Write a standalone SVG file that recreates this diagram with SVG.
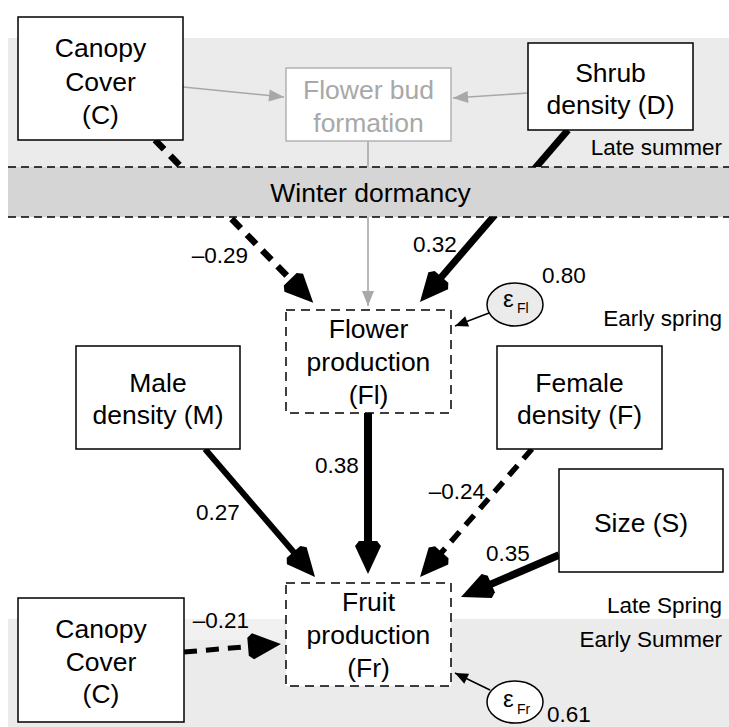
<svg xmlns="http://www.w3.org/2000/svg" width="729" height="727" viewBox="0 0 729 727">
<style>
text{font-family:"Liberation Sans",Arial,Helvetica,sans-serif;fill:#000}
.node{font-size:26.5px;text-anchor:middle}
.lbl{font-size:22.5px}
.season{font-size:22.5px;text-anchor:end}
.box{fill:#fff;stroke:#000;stroke-width:1.5}
.dbox{fill:#fff;stroke:#000;stroke-width:1.5;stroke-dasharray:9,6}
.bud{fill:#fff;stroke:#b3b3b3;stroke-width:1.5}
.budt{fill:#a8a8a8}
.thick{stroke:#000;fill:none;marker-end:url(#big)}
.dash{stroke-dasharray:13,9}
.gray{stroke:#a8a8a8;stroke-width:1.6;fill:none;marker-end:url(#gh)}
.thin{stroke:#000;stroke-width:1.5;fill:none;marker-end:url(#th)}
.eps{font-size:24px}
.sub{font-size:14px}
</style>
<defs>
<marker id="big" markerUnits="userSpaceOnUse" viewBox="-16 -14 37 28" markerWidth="37" markerHeight="28" refX="0" refY="0" orient="auto">
<path d="M20,0 L-8,-13 L-13,-9 L-13,9 L-8,13 Z" fill="#000"/>
</marker>
<marker id="gh" markerUnits="userSpaceOnUse" viewBox="-16 -7 17 14" markerWidth="17" markerHeight="14" refX="0" refY="0" orient="auto">
<path d="M0,0 L-15,-6 L-15,6 Z" fill="#a8a8a8"/>
</marker>
<marker id="th" markerUnits="userSpaceOnUse" viewBox="-14 -7 15 14" markerWidth="15" markerHeight="14" refX="0" refY="0" orient="auto">
<path d="M0,0 L-13,-5.5 L-13,5.5 Z" fill="#000"/>
</marker>
</defs>

<g id="bands">
<rect x="8" y="38" width="721" height="129" fill="#ebebeb"/>
<rect x="8" y="619" width="721" height="108" fill="#ebebeb"/>
<rect x="184" y="619" width="100" height="21" fill="#f1f1f1"/>
</g>

<g id="connectors">
<line class="gray" x1="183" y1="87" x2="284" y2="97"/>
<line class="gray" x1="528" y1="93" x2="453" y2="98"/>
<line class="gray" x1="368" y1="141" x2="368" y2="306"/>
<line class="thick dash" stroke-width="6.5" x1="155" y1="140" x2="299.3" y2="288.5"/>
<line class="thick" stroke-width="7" x1="568" y1="130" x2="433" y2="286.8"/>
<line class="thick" stroke-width="8" x1="368" y1="413" x2="368" y2="554"/>
<line class="thick" stroke-width="6" x1="205" y1="449" x2="302" y2="561.8"/>
<line class="thick dash" stroke-width="5.5" x1="532" y1="449" x2="433.2" y2="562"/>
<line class="thick" stroke-width="7.5" x1="559" y1="555" x2="479.4" y2="589.1"/>
<line class="thick dash" stroke-width="5" x1="184" y1="652" x2="261" y2="645.6"/>
<line class="thin" x1="489" y1="313" x2="455" y2="326"/>
<line class="thin" x1="490" y1="690" x2="455" y2="673"/>
</g>

<g id="winter">
<rect x="8" y="167" width="721" height="50" fill="#d5d5d5"/>
<line x1="8" y1="167" x2="729" y2="167" stroke="#000" stroke-width="1.3" stroke-dasharray="8,5"/>
<line x1="8" y1="217" x2="729" y2="217" stroke="#000" stroke-width="1.3" stroke-dasharray="8,5"/>
<text class="node" x="370.5" y="202">Winter dormancy</text>
</g>

<g id="seasons">
<text class="season" x="722" y="155">Late summer</text>
<text class="season" x="722" y="326">Early spring</text>
<text class="season" x="722" y="613">Late Spring</text>
<text class="season" x="722" y="647">Early Summer</text>
</g>

<g id="canopy-top">
<rect class="box" x="18" y="17" width="165" height="123"/>
<text class="node"><tspan x="100.5" y="57">Canopy</tspan><tspan x="100.5" y="91">Cover</tspan><tspan x="100.5" y="124">(C)</tspan></text>
</g>
<g id="bud-formation">
<rect class="bud" x="286" y="68" width="165" height="73"/>
<text class="node budt"><tspan x="368.5" y="99" class="budt">Flower bud</tspan><tspan x="368.5" y="132" class="budt">formation</tspan></text>
</g>
<g id="shrub">
<rect class="box" x="528" y="43" width="165" height="87"/>
<text class="node"><tspan x="610.5" y="82">Shrub</tspan><tspan x="610.5" y="114">density (D)</tspan></text>
</g>
<g id="flower-production">
<rect class="dbox" x="286" y="310" width="165" height="103"/>
<text class="node"><tspan x="368.5" y="338">Flower</tspan><tspan x="368.5" y="371">production</tspan><tspan x="368.5" y="404">(Fl)</tspan></text>
</g>
<g id="eps-fl">
<ellipse cx="515" cy="304.5" rx="28" ry="21.5" fill="#ebebeb" stroke="#000" stroke-width="1.5"/>
<text class="eps" x="503" y="307">ε</text><text class="sub" x="517" y="313">Fl</text>
</g>
<g id="male">
<rect class="box" x="76" y="346" width="164" height="103"/>
<text class="node"><tspan x="158" y="392">Male</tspan><tspan x="158" y="424">density (M)</tspan></text>
</g>
<g id="female">
<rect class="box" x="497" y="346" width="165" height="103"/>
<text class="node"><tspan x="579.5" y="392">Female</tspan><tspan x="579.5" y="424">density (F)</tspan></text>
</g>
<g id="size">
<rect class="box" x="559" y="469" width="164" height="103"/>
<text class="node" x="641" y="532">Size (S)</text>
</g>
<g id="fruit-production">
<rect class="dbox" x="286" y="583" width="165" height="103"/>
<text class="node"><tspan x="368.5" y="611">Fruit</tspan><tspan x="368.5" y="644">production</tspan><tspan x="368.5" y="677">(Fr)</tspan></text>
</g>
<g id="canopy-bottom">
<rect class="box" x="18" y="598" width="166" height="124"/>
<text class="node"><tspan x="101" y="638">Canopy</tspan><tspan x="101" y="671">Cover</tspan><tspan x="101" y="703">(C)</tspan></text>
</g>
<g id="eps-fr">
<ellipse cx="515" cy="702" rx="28" ry="21" fill="#fff" stroke="#000" stroke-width="1.5"/>
<text class="eps" x="503" y="707">ε</text><text class="sub" x="517" y="714">Fr</text>
</g>

<g id="coefficients">
<text class="lbl" x="248" y="263" text-anchor="end">–0.29</text>
<text class="lbl" x="413" y="252">0.32</text>
<text class="lbl" x="542" y="283">0.80</text>
<text class="lbl" x="315" y="473">0.38</text>
<text class="lbl" x="196" y="520">0.27</text>
<text class="lbl" x="485" y="499" text-anchor="end">–0.24</text>
<text class="lbl" x="486" y="561">0.35</text>
<text class="lbl" x="249" y="628" text-anchor="end">–0.21</text>
<text class="lbl" x="547" y="722">0.61</text>
</g>
</svg>
